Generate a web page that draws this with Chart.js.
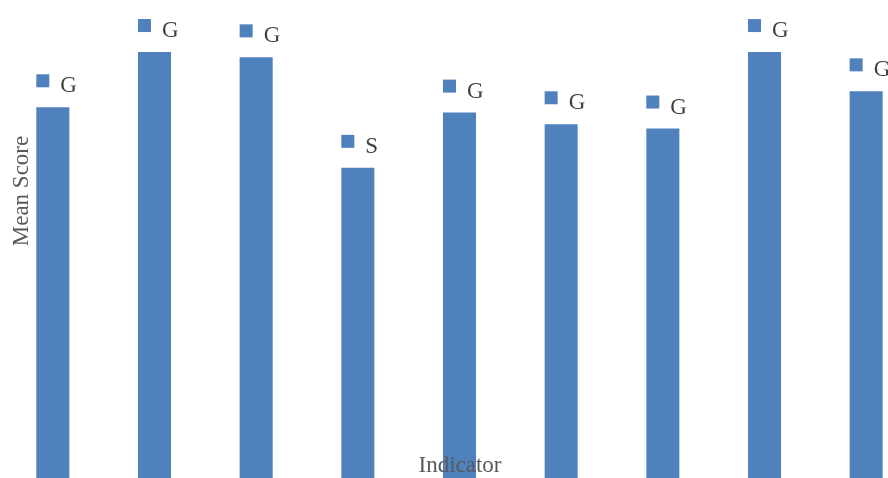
<!DOCTYPE html>
<html>
<head>
<meta charset="utf-8">
<script src="https://cdn.jsdelivr.net/npm/chart.js@4/dist/chart.umd.min.js"></script>
<style>
  html, body { margin: 0; padding: 0; overflow: hidden; background: #fff; }
  #wrap { width: 917px; height: 478px; position: relative; }
</style>
</head>
<body>
<div id="wrap"><canvas id="chart"></canvas></div>
<script>
// values (axis is hidden, scale 0 - 4.5)
const indicators = ["1", "2", "3", "4", "5", "6", "7", "8", "9"];
const meanScores = [3.49, 4.01, 3.96, 2.92, 3.44, 3.33, 3.29, 4.01, 3.64];
const ratings = ["G", "G", "G", "S", "G", "G", "G", "G", "G"];

const barBlue = "#4F81BD";

// legend-key style labels above each bar, plus the two axis titles drawn on top
const labelPlugin = {
  id: "keyLabels",
  afterDatasetsDraw(chart) {
    const ctx = chart.ctx;
    const meta = chart.getDatasetMeta(0);
    ctx.save();
    meta.data.forEach((bar, i) => {
      let left = bar.x - bar.width / 2;
      ctx.fillStyle = barBlue;
      ctx.fillRect(left, bar.y - 33, 13, 13);
      ctx.fillStyle = "#404040";
      ctx.font = "23px 'Liberation Serif'";
      ctx.textBaseline = "alphabetic";
      ctx.textAlign = "left";
      ctx.fillText(ratings[i], left + 24, bar.y - 15);
    });
    // axis titles
    ctx.fillStyle = "#595959";
    ctx.font = "23px 'Liberation Serif'";
    ctx.textAlign = "center";
    ctx.fillText("Indicator", 460, 472);
    ctx.translate(28, 191);
    ctx.rotate(-Math.PI / 2);
    ctx.fillText("Mean Score", 0, 0);
    ctx.restore();
  }
};

new Chart(document.getElementById("chart"), {
  type: "bar",
  data: {
    labels: indicators,
    datasets: [{
      data: meanScores,
      backgroundColor: barBlue,
      categoryPercentage: 1,
      barPercentage: 0.325
    }]
  },
  options: {
    responsive: true,
    maintainAspectRatio: false,
    animation: false,
    layout: { padding: { left: 2, right: 0, top: 0, bottom: 0 } },
    plugins: { legend: { display: false }, tooltip: { enabled: false } },
    scales: {
      x: { display: false },
      y: { display: false, min: 0, max: 4.5 }
    }
  },
  plugins: [labelPlugin]
});
</script>
</body>
</html>
